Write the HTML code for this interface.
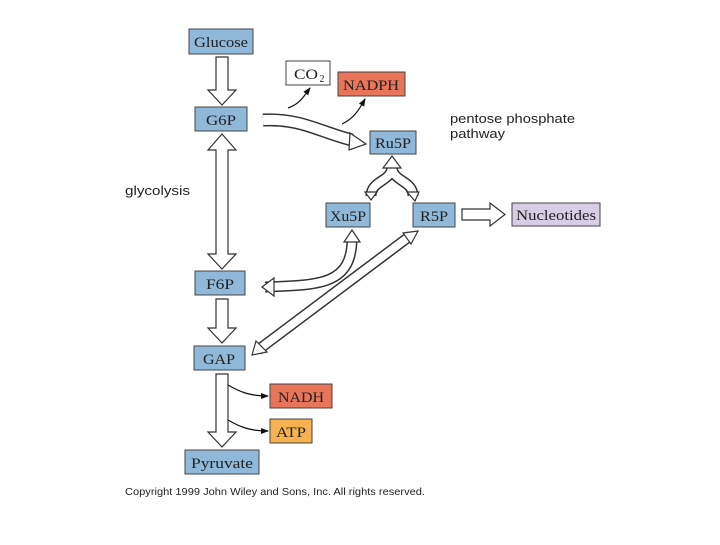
<!DOCTYPE html>
<html><head><style>
body{margin:0;background:#fff;width:720px;height:540px;overflow:hidden}
svg text{font-family:"Liberation Serif",serif}
.s{font-family:"Liberation Sans",sans-serif}
</style></head><body>
<svg width="720" height="540" viewBox="0 0 720 540">
<defs>
<marker id="m" markerWidth="8" markerHeight="8" refX="7" refY="4" orient="auto" markerUnits="userSpaceOnUse"><path d="M0,1 L8,4 L0,7 Z" fill="#111"/></marker>
</defs>
<g fill="#fff" stroke="#333" stroke-width="1.2">
<polygon points="216,57 228,57 228,90 236,90 222,105 208,90 216,90"/>
<polygon points="222,134 236,150 228,150 228,254 236,254 222,269 208,254 216,254 216,150 208,150"/>
<polygon points="216,299 228,299 228,328 236,328 222,343 208,328 216,328"/>
<polygon points="216,374 228,374 228,432 236,432 222,447 208,432 216,432"/>
<polygon points="462,209 490,209 490,203 505,214.5 490,226 490,220 462,220"/>
</g>
<g fill="none" stroke-linecap="butt">
<path d="M263,120 C300,118 320,132 352,140" stroke="#333" stroke-width="13"/>
<path d="M263,120 C300,118 320,132 352,140" stroke="#fff" stroke-width="10"/>
<path d="M371,196 C371,180 392,182 392,166 C392,182 413,180 413,196" stroke="#333" stroke-width="11"/>
<path d="M371,196 C371,180 392,182 392,166 C392,182 413,180 413,196" stroke="#fff" stroke-width="8"/>
<path d="M265,287 C320,285 352,285 352,238" stroke="#333" stroke-width="11"/>
<path d="M265,287 C320,285 352,285 352,238" stroke="#fff" stroke-width="8"/>
<path d="M258,350 L410,236" stroke="#333" stroke-width="11"/>
<path d="M258,350 L410,236" stroke="#fff" stroke-width="8"/>
</g>
<g fill="#fff" stroke="#333" stroke-width="1.2">
<polygon points="350,133 366,144 349,150"/>
<polygon points="392,156 401,168 383,168"/>
<polygon points="365,192 377,192 371,200"/>
<polygon points="407,192 419,192 415,201"/>
<polygon points="262,287 274,278 274,296"/>
<polygon points="352,230 344,242 360,242"/>
<polygon points="418,231 403,233 411,244"/>
<polygon points="252,355 256,341 267,352"/>
</g>
<g fill="none" stroke="#111" stroke-width="1.2">
<path d="M288,108 C300,104 304,96 310,88" marker-end="url(#m)"/>
<path d="M342,124 C355,118 360,108 365,99" marker-end="url(#m)"/>
<path d="M228,385 C240,392 250,396 268,396" marker-end="url(#m)"/>
<path d="M228,420 C240,427 250,431 268,431" marker-end="url(#m)"/>
</g>
<g stroke="#444" stroke-width="1">
<rect x="189" y="29" width="64" height="25" fill="#8fb8d9"/>
<rect x="195" y="107" width="52" height="24" fill="#8fb8d9"/>
<rect x="286" y="61" width="44" height="24" fill="#fff"/>
<rect x="338" y="72" width="67" height="24" fill="#e8745a"/>
<rect x="370" y="131" width="46" height="23" fill="#8fb8d9"/>
<rect x="326" y="203" width="44" height="24" fill="#8fb8d9"/>
<rect x="413" y="203" width="42" height="24" fill="#8fb8d9"/>
<rect x="512" y="203" width="88" height="23" fill="#d9cde6"/>
<rect x="195" y="271" width="50" height="24" fill="#8fb8d9"/>
<rect x="194" y="346" width="51" height="24" fill="#8fb8d9"/>
<rect x="270" y="384" width="62" height="24" fill="#e8745a"/>
<rect x="270" y="419" width="42" height="24" fill="#f5b24e"/>
<rect x="185" y="450" width="74" height="24" fill="#8fb8d9"/>
</g>
<g font-size="14.5" fill="#222" text-anchor="middle">
<text x="221" y="47" textLength="54" lengthAdjust="spacingAndGlyphs">Glucose</text>
<text x="221" y="125" textLength="30" lengthAdjust="spacingAndGlyphs">G6P</text>
<text x="306" y="79" textLength="24" lengthAdjust="spacingAndGlyphs">CO</text>
<text x="322" y="82" font-size="10">2</text>
<text x="371" y="90" textLength="56" lengthAdjust="spacingAndGlyphs">NADPH</text>
<text x="393" y="148" textLength="36" lengthAdjust="spacingAndGlyphs">Ru5P</text>
<text x="348" y="221" textLength="36" lengthAdjust="spacingAndGlyphs">Xu5P</text>
<text x="434" y="221" textLength="28" lengthAdjust="spacingAndGlyphs">R5P</text>
<text x="556" y="220" textLength="80" lengthAdjust="spacingAndGlyphs">Nucleotides</text>
<text x="220" y="289" textLength="28" lengthAdjust="spacingAndGlyphs">F6P</text>
<text x="219" y="364" textLength="32" lengthAdjust="spacingAndGlyphs">GAP</text>
<text x="301" y="402" textLength="46" lengthAdjust="spacingAndGlyphs">NADH</text>
<text x="291" y="437" textLength="30" lengthAdjust="spacingAndGlyphs">ATP</text>
<text x="222" y="468" textLength="62" lengthAdjust="spacingAndGlyphs">Pyruvate</text>
</g>
<g font-size="13" fill="#222">
<text x="450" y="123" class="s" textLength="125" lengthAdjust="spacingAndGlyphs">pentose phosphate</text>
<text x="450" y="138" class="s" textLength="55" lengthAdjust="spacingAndGlyphs">pathway</text>
<text x="125" y="195" class="s" textLength="65" lengthAdjust="spacingAndGlyphs">glycolysis</text>
<text x="125" y="495" font-size="10.5" class="s" textLength="300" lengthAdjust="spacingAndGlyphs">Copyright 1999 John Wiley and Sons, Inc. All rights reserved.</text>
</g>
</svg>
</body></html>
